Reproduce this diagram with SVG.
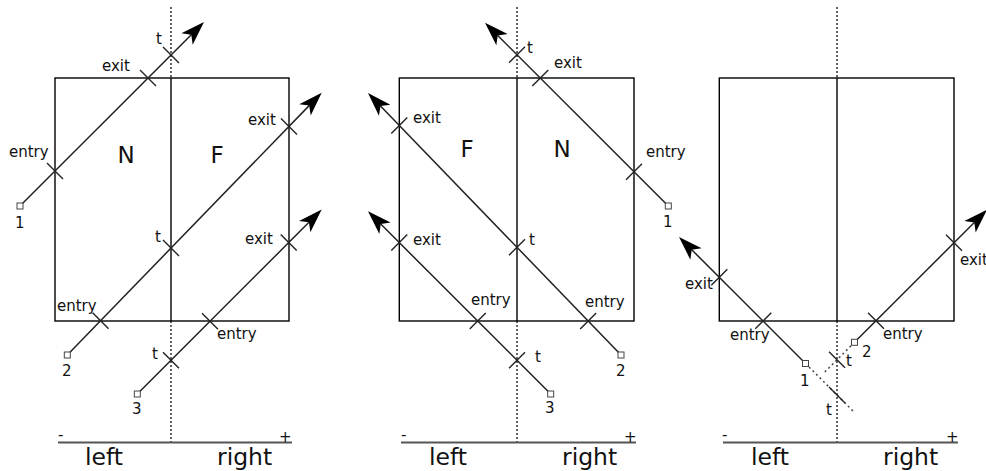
<svg xmlns="http://www.w3.org/2000/svg" width="986" height="471" viewBox="0 0 986 471">
<style>
.box{fill:none;stroke:#000;stroke-width:1.4}
.mid{stroke:#000;stroke-width:1.4}
.dot{stroke:#000;stroke-width:1.2;stroke-dasharray:2 2}
.axis{stroke:#555;stroke-width:2}
.ray{fill:none;stroke:#222;stroke-width:1.5}
.rayd{fill:none;stroke:#444;stroke-width:1.5;stroke-dasharray:2 3}
.tick{stroke:#222;stroke-width:1.4}
.sq{fill:#fff;stroke:#444;stroke-width:1}
text{font-family:"DejaVu Sans","Verdana",sans-serif;fill:#111}
.l{font-size:15px}
.d{font-size:15px}
.big{font-size:23px;text-anchor:middle}
.ax{font-size:23.5px}
</style>
<defs>
<marker id="arr" markerUnits="userSpaceOnUse" viewBox="-8 -10 30 20" markerWidth="30" markerHeight="20" refX="0" refY="0" orient="auto" overflow="visible">
<path d="M18,0 L-6,-8 L0,0 L-6,8 Z" fill="#000"/>
</marker>
</defs>

<!-- Panel 1 -->
<g id="panel1">
<rect class="box" x="55" y="78" width="234" height="243"/>
<line class="mid" x1="171" y1="78" x2="171" y2="321"/>
<line class="dot" x1="171" y1="7" x2="171" y2="78"/>
<line class="dot" x1="171" y1="321" x2="171" y2="442"/>
<line class="axis" x1="58" y1="442.5" x2="292" y2="442.5"/>
<text class="l" x="58" y="440">-</text>
<text class="l" x="279" y="442">+</text>
<text class="ax" x="85" y="464.5">left</text>
<text class="ax" x="217" y="464.5">right</text>
<text class="big" x="126" y="163">N</text>
<text class="big" x="217" y="163">F</text>
</g>

<!-- Panel 2 -->
<g id="panel2">
<rect class="box" x="399.3" y="78" width="234.7" height="243"/>
<line class="mid" x1="517" y1="78" x2="517" y2="321"/>
<line class="dot" x1="517" y1="7" x2="517" y2="78"/>
<line class="dot" x1="517" y1="321" x2="517" y2="442"/>
<line class="axis" x1="401" y1="442.5" x2="636" y2="442.5"/>
<text class="l" x="401" y="440">-</text>
<text class="l" x="624" y="442">+</text>
<text class="ax" x="429" y="464.5">left</text>
<text class="ax" x="562" y="464.5">right</text>
<text class="big" x="467" y="157">F</text>
<text class="big" x="562" y="157">N</text>
</g>

<!-- Panel 3 -->
<g id="panel3">
<rect class="box" x="719.3" y="78" width="234.7" height="243"/>
<line class="mid" x1="837" y1="78" x2="837" y2="321"/>
<line class="dot" x1="837" y1="7" x2="837" y2="78"/>
<line class="dot" x1="837" y1="321" x2="837" y2="442"/>
<line class="axis" x1="723" y1="442.5" x2="958" y2="442.5"/>
<text class="l" x="722" y="440">-</text>
<text class="l" x="946" y="442">+</text>
<text class="ax" x="751" y="464.5">left</text>
<text class="ax" x="883" y="464.5">right</text>
</g>

<g id="connectors">
<path class="ray" d="M20,206 L191.27,34.73" marker-end="url(#arr)"/>
<path class="ray" d="M67.3,355 L309.17,105.62" marker-end="url(#arr)"/>
<path class="ray" d="M137.3,394 L308.97,222.33" marker-end="url(#arr)"/>
<path class="ray" d="M668.3,206 L497.73,35.43" marker-end="url(#arr)"/>
<path class="ray" d="M621,355 L380.5,105.95" marker-end="url(#arr)"/>
<path class="ray" d="M550.7,394 L380.73,224.03" marker-end="url(#arr)"/>
<path class="ray" d="M805.5,363.5 L691.73,249.73" marker-end="url(#arr)"/>
<path class="rayd" d="M805.5,363.5 L853.5,411.5"/>
<path class="ray" d="M854.5,342.3 L974.27,222.53" marker-end="url(#arr)"/>
<path class="rayd" d="M854.5,342.3 L823,373.8"/>
</g>

<g id="ticks">
<path class="tick" d="M47,163 l16,16 M140,70 l16,16 M163,47 l16,16
 M92.6,312.7 l16,16 M163,240 l16,16 M281,118.4 l16,16
 M163,352.3 l16,16 M202,313.3 l16,16 M280.7,234.6 l16,16"/>
<path class="tick" d="M626,179.7 l16,-16 M532.3,86 l16,-16 M509,62.7 l16,-16
 M580.2,329 l16,-16 M509,255.3 l16,-16 M391.3,133.4 l16,-16
 M509,368.3 l16,-16 M469.7,329 l16,-16 M391.3,250.6 l16,-16"/>
<path class="tick" d="M711.3,285.3 l16,-16 M755.3,328.7 l16,-16 M829,387 l16,16
 M868,312.8 l16,16 M946,234.8 l16,16 M829,351.8 l16,16"/>
</g>

<g id="starts">
<rect class="sq" x="17" y="203" width="6" height="6"/>
<rect class="sq" x="64.3" y="352" width="6" height="6"/>
<rect class="sq" x="134.3" y="391" width="6" height="6"/>
<rect class="sq" x="665.3" y="203" width="6" height="6"/>
<rect class="sq" x="618" y="352" width="6" height="6"/>
<rect class="sq" x="547.7" y="391" width="6" height="6"/>
<rect class="sq" x="802.5" y="360.5" width="6" height="6"/>
<rect class="sq" x="851.5" y="339.3" width="6" height="6"/>
</g>

<g id="labels">
<text class="l" x="156" y="44">t</text>
<text class="l" x="102" y="71">exit</text>
<text class="l" x="9" y="157">entry</text>
<text class="d" x="15" y="228">1</text>
<text class="l" x="248" y="125">exit</text>
<text class="l" x="155" y="242">t</text>
<text class="l" x="245" y="244">exit</text>
<text class="l" x="57" y="311">entry</text>
<text class="l" x="217" y="339">entry</text>
<text class="l" x="152" y="359">t</text>
<text class="d" x="62" y="376">2</text>
<text class="d" x="132" y="414">3</text>
<text class="l" x="527" y="53">t</text>
<text class="l" x="554" y="68">exit</text>
<text class="l" x="413" y="123">exit</text>
<text class="l" x="646" y="157">entry</text>
<text class="d" x="663" y="227">1</text>
<text class="l" x="413" y="245">exit</text>
<text class="l" x="529" y="245">t</text>
<text class="l" x="471" y="305">entry</text>
<text class="l" x="585" y="307">entry</text>
<text class="l" x="535" y="362">t</text>
<text class="d" x="616" y="376">2</text>
<text class="d" x="545" y="413">3</text>
<text class="l" x="960" y="265">exit</text>
<text class="l" x="685" y="289">exit</text>
<text class="l" x="730" y="340">entry</text>
<text class="l" x="883" y="339">entry</text>
<text class="d" x="862" y="357">2</text>
<text class="l" x="846" y="366">t</text>
<text class="d" x="800" y="386">1</text>
<text class="l" x="826" y="415">t</text>
</g>
</svg>
